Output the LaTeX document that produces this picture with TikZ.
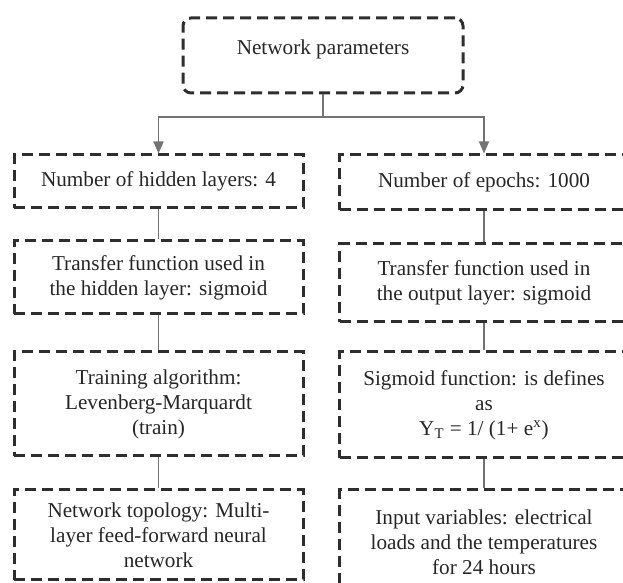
\documentclass[tikz,border=0pt]{standalone}
\usepackage{fontspec}
\setmainfont{Liberation Serif}
\usetikzlibrary{arrows.meta}

\begin{document}
\begin{tikzpicture}[x=0.5pt, y=-0.5pt,
    box/.style={draw=black!82, line width=1.5pt, dash pattern=on 5.5pt off 3pt, align=center, inner sep=0pt, text=black!85, minimum width=144.5pt, font=\fontsize{10.6}{12.5}\selectfont},
    link/.style={draw=black!55, line width=0.8pt}]
    \useasboundingbox (0, 0) rectangle (623, 583);

    %Nodes
    \node[box, rounded corners=4pt, minimum width=140pt, minimum height=37.5pt] at (323, 55.5) (np) {\raisebox{8.5pt}{Network parameters}};

    \node[box, minimum height=26.5pt] at (158.5, 181.5) (hl) {Number of hidden layers: 4};
    \node[box, minimum height=36.5pt] at (158.5, 277.5) (tfh) {Transfer function used in\\the hidden layer: sigmoid};
    \node[box, minimum height=52pt] at (158.5, 404) (ta) {Training algorithm:\\Levenberg-Marquardt\\(train)};
    \node[box, minimum height=45pt] at (158.5, 535) (nt) {Network topology: Multi-\\layer feed-forward neural\\network};

    \node[box, minimum height=27.5pt] at (484, 182.5) (ep) {Number of epochs: 1000};
    \node[box, minimum height=39pt] at (484, 283) (tfo) {Transfer function used in\\the output layer: sigmoid};
    \node[box, minimum height=53pt] at (484, 405) (sf) {Sigmoid function: is defines\\as\\Y\textsubscript{T} = 1/ (1+ e\textsuperscript{x})};
    \node[box, minimum height=52pt] at (484, 542) (iv) {Input variables: electrical\\loads and the temperatures\\for 24 hours};

    \coordinate (fork) at (323, 117);

    %Lines
    \draw[link] (np) -- (fork);
    \draw[link, -{Triangle[width=5pt, length=6pt]}] (fork) -| (hl.north);
    \draw[link, -{Triangle[width=5pt, length=6pt]}] (fork) -| (ep.north);
    \draw[link] (hl) -- (tfh);
    \draw[link] (tfh) -- (ta);
    \draw[link] (ta) -- (nt);
    \draw[link] (ep) -- (tfo);
    \draw[link] (tfo) -- (sf);
    \draw[link] (sf) -- (iv);

\end{tikzpicture}
\end{document}
